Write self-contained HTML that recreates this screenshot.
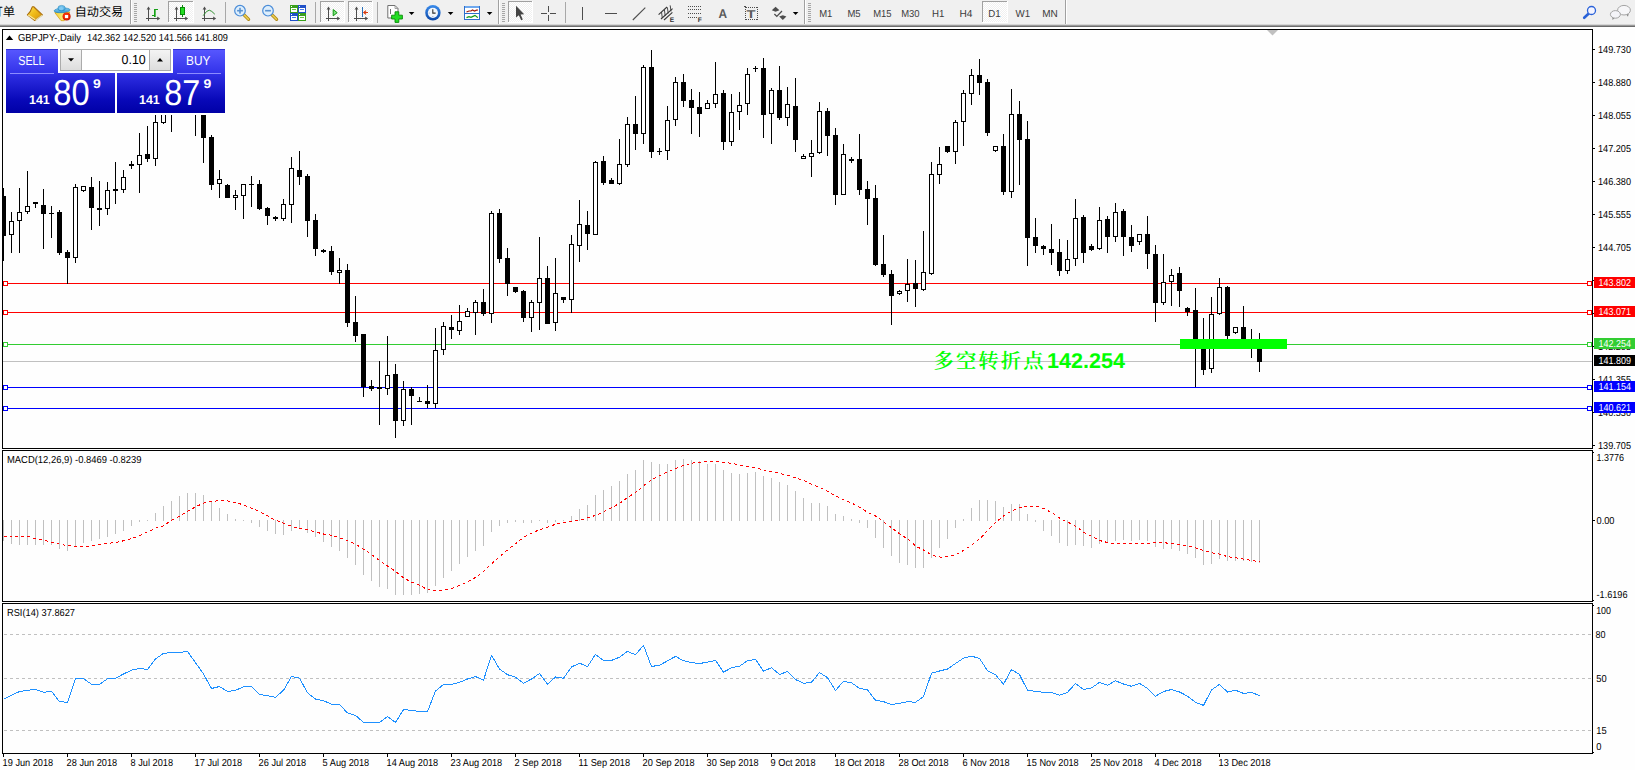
<!DOCTYPE html>
<html><head><meta charset="utf-8"><title>GBPJPY-,Daily</title>
<style>
html,body{margin:0;padding:0;background:#fff;overflow:hidden}
#root{position:relative;width:1635px;height:770px;overflow:hidden;background:#fff}
svg{position:absolute;left:0;top:0;font-family:"Liberation Sans","Noto Sans CJK SC",sans-serif}
text{white-space:pre;text-rendering:geometricPrecision}
</style></head><body><div id="root">
<svg width="1635" height="770" viewBox="0 0 1635 770">
<rect x="0" y="0" width="1635" height="770" fill="#fefefe" />
<clipPath id="cm"><rect x="3" y="30" width="1589" height="418"/></clipPath>
<g clip-path="url(#cm)" shape-rendering="crispEdges">
<rect x="3" y="361" width="1589" height="1" fill="#c0c0c0" />
<rect x="3" y="283" width="1589" height="1" fill="#ff0000" />
<rect x="3" y="312" width="1589" height="1" fill="#ff0000" />
<rect x="3" y="344" width="1589" height="1" fill="#32cd32" />
<rect x="3" y="387" width="1589" height="1" fill="#0000ff" />
<rect x="3" y="408" width="1589" height="1" fill="#0000ff" />
<rect x="3" y="188" width="1" height="73" fill="#000" />
<rect x="1" y="196" width="5" height="40" fill="#000" />
<rect x="11" y="212" width="1" height="41" fill="#000" />
<rect x="9" y="221" width="5" height="14" fill="#000" />
<rect x="10" y="222" width="3" height="12" fill="#fff" />
<rect x="19" y="188" width="1" height="65" fill="#000" />
<rect x="17" y="212" width="5" height="9" fill="#000" />
<rect x="18" y="213" width="3" height="7" fill="#fff" />
<rect x="27" y="171" width="1" height="43" fill="#000" />
<rect x="25" y="206" width="5" height="6" fill="#000" />
<rect x="26" y="207" width="3" height="4" fill="#fff" />
<rect x="35" y="202" width="1" height="6" fill="#000" />
<rect x="33" y="202" width="5" height="2" fill="#000" />
<rect x="43" y="189" width="1" height="60" fill="#000" />
<rect x="41" y="205" width="5" height="9" fill="#000" />
<rect x="51" y="206" width="1" height="32" fill="#000" />
<rect x="49" y="213" width="5" height="1" fill="#000" />
<rect x="59" y="210" width="1" height="45" fill="#000" />
<rect x="57" y="212" width="5" height="41" fill="#000" />
<rect x="67" y="250" width="1" height="34" fill="#000" />
<rect x="65" y="252" width="5" height="6" fill="#000" />
<rect x="75" y="184" width="1" height="79" fill="#000" />
<rect x="73" y="187" width="5" height="71" fill="#000" />
<rect x="74" y="188" width="3" height="69" fill="#fff" />
<rect x="83" y="186" width="1" height="6" fill="#000" />
<rect x="81" y="186" width="5" height="5" fill="#000" />
<rect x="82" y="187" width="3" height="3" fill="#fff" />
<rect x="91" y="177" width="1" height="53" fill="#000" />
<rect x="89" y="187" width="5" height="21" fill="#000" />
<rect x="99" y="181" width="1" height="45" fill="#000" />
<rect x="97" y="208" width="5" height="2" fill="#000" />
<rect x="107" y="182" width="1" height="33" fill="#000" />
<rect x="105" y="190" width="5" height="19" fill="#000" />
<rect x="106" y="191" width="3" height="17" fill="#fff" />
<rect x="115" y="162" width="1" height="42" fill="#000" />
<rect x="113" y="189" width="5" height="2" fill="#000" />
<rect x="123" y="170" width="1" height="23" fill="#000" />
<rect x="121" y="177" width="5" height="13" fill="#000" />
<rect x="122" y="178" width="3" height="11" fill="#fff" />
<rect x="131" y="161" width="1" height="8" fill="#000" />
<rect x="129" y="164" width="5" height="2" fill="#000" />
<rect x="139" y="133" width="1" height="60" fill="#000" />
<rect x="137" y="155" width="5" height="10" fill="#000" />
<rect x="138" y="156" width="3" height="8" fill="#fff" />
<rect x="147" y="126" width="1" height="36" fill="#000" />
<rect x="145" y="154" width="5" height="5" fill="#000" />
<rect x="155" y="100" width="1" height="66" fill="#000" />
<rect x="153" y="122" width="5" height="37" fill="#000" />
<rect x="154" y="123" width="3" height="35" fill="#fff" />
<rect x="163" y="100" width="1" height="24" fill="#000" />
<rect x="161" y="100" width="5" height="23" fill="#000" />
<rect x="162" y="101" width="3" height="21" fill="#fff" />
<rect x="171" y="100" width="1" height="32" fill="#000" />
<rect x="169" y="100" width="5" height="10" fill="#000" />
<rect x="195" y="100" width="1" height="36" fill="#000" />
<rect x="193" y="100" width="5" height="10" fill="#000" />
<rect x="203" y="100" width="1" height="63" fill="#000" />
<rect x="201" y="100" width="5" height="38" fill="#000" />
<rect x="211" y="135" width="1" height="55" fill="#000" />
<rect x="209" y="137" width="5" height="48" fill="#000" />
<rect x="219" y="170" width="1" height="28" fill="#000" />
<rect x="217" y="179" width="5" height="5" fill="#000" />
<rect x="218" y="180" width="3" height="3" fill="#fff" />
<rect x="227" y="184" width="1" height="14" fill="#000" />
<rect x="225" y="185" width="5" height="13" fill="#000" />
<rect x="235" y="190" width="1" height="20" fill="#000" />
<rect x="233" y="195" width="5" height="3" fill="#000" />
<rect x="234" y="196" width="3" height="1" fill="#fff" />
<rect x="243" y="184" width="1" height="35" fill="#000" />
<rect x="241" y="184" width="5" height="12" fill="#000" />
<rect x="242" y="185" width="3" height="10" fill="#fff" />
<rect x="251" y="176" width="1" height="31" fill="#000" />
<rect x="249" y="184" width="5" height="1" fill="#000" />
<rect x="259" y="180" width="1" height="30" fill="#000" />
<rect x="257" y="184" width="5" height="25" fill="#000" />
<rect x="267" y="207" width="1" height="18" fill="#000" />
<rect x="265" y="208" width="5" height="8" fill="#000" />
<rect x="275" y="216" width="1" height="5" fill="#000" />
<rect x="273" y="217" width="5" height="2" fill="#000" />
<rect x="283" y="199" width="1" height="22" fill="#000" />
<rect x="281" y="204" width="5" height="15" fill="#000" />
<rect x="282" y="205" width="3" height="13" fill="#fff" />
<rect x="291" y="157" width="1" height="66" fill="#000" />
<rect x="289" y="168" width="5" height="37" fill="#000" />
<rect x="290" y="169" width="3" height="35" fill="#fff" />
<rect x="299" y="151" width="1" height="34" fill="#000" />
<rect x="297" y="170" width="5" height="7" fill="#000" />
<rect x="307" y="174" width="1" height="63" fill="#000" />
<rect x="305" y="176" width="5" height="45" fill="#000" />
<rect x="315" y="214" width="1" height="42" fill="#000" />
<rect x="313" y="220" width="5" height="29" fill="#000" />
<rect x="323" y="249" width="1" height="4" fill="#000" />
<rect x="321" y="250" width="5" height="2" fill="#000" />
<rect x="331" y="246" width="1" height="29" fill="#000" />
<rect x="329" y="251" width="5" height="21" fill="#000" />
<rect x="339" y="258" width="1" height="26" fill="#000" />
<rect x="337" y="270" width="5" height="3" fill="#000" />
<rect x="338" y="271" width="3" height="1" fill="#fff" />
<rect x="347" y="264" width="1" height="63" fill="#000" />
<rect x="345" y="270" width="5" height="53" fill="#000" />
<rect x="355" y="296" width="1" height="46" fill="#000" />
<rect x="353" y="322" width="5" height="14" fill="#000" />
<rect x="363" y="334" width="1" height="63" fill="#000" />
<rect x="361" y="334" width="5" height="53" fill="#000" />
<rect x="371" y="380" width="1" height="11" fill="#000" />
<rect x="369" y="386" width="5" height="3" fill="#000" />
<rect x="379" y="361" width="1" height="64" fill="#000" />
<rect x="377" y="387" width="5" height="2" fill="#000" />
<rect x="387" y="336" width="1" height="59" fill="#000" />
<rect x="385" y="375" width="5" height="14" fill="#000" />
<rect x="386" y="376" width="3" height="12" fill="#fff" />
<rect x="395" y="364" width="1" height="74" fill="#000" />
<rect x="393" y="374" width="5" height="47" fill="#000" />
<rect x="403" y="381" width="1" height="45" fill="#000" />
<rect x="401" y="389" width="5" height="32" fill="#000" />
<rect x="402" y="390" width="3" height="30" fill="#fff" />
<rect x="411" y="387" width="1" height="38" fill="#000" />
<rect x="409" y="389" width="5" height="7" fill="#000" />
<rect x="419" y="397" width="1" height="5" fill="#000" />
<rect x="417" y="401" width="5" height="1" fill="#000" />
<rect x="427" y="385" width="1" height="23" fill="#000" />
<rect x="425" y="401" width="5" height="3" fill="#000" />
<rect x="435" y="328" width="1" height="80" fill="#000" />
<rect x="433" y="350" width="5" height="54" fill="#000" />
<rect x="434" y="351" width="3" height="52" fill="#fff" />
<rect x="443" y="322" width="1" height="33" fill="#000" />
<rect x="441" y="326" width="5" height="24" fill="#000" />
<rect x="442" y="327" width="3" height="22" fill="#fff" />
<rect x="451" y="315" width="1" height="24" fill="#000" />
<rect x="449" y="327" width="5" height="3" fill="#000" />
<rect x="459" y="305" width="1" height="30" fill="#000" />
<rect x="457" y="321" width="5" height="10" fill="#000" />
<rect x="458" y="322" width="3" height="8" fill="#fff" />
<rect x="467" y="308" width="1" height="9" fill="#000" />
<rect x="465" y="311" width="5" height="6" fill="#000" />
<rect x="466" y="312" width="3" height="4" fill="#fff" />
<rect x="475" y="300" width="1" height="35" fill="#000" />
<rect x="473" y="302" width="5" height="11" fill="#000" />
<rect x="474" y="303" width="3" height="9" fill="#fff" />
<rect x="483" y="289" width="1" height="27" fill="#000" />
<rect x="481" y="302" width="5" height="12" fill="#000" />
<rect x="491" y="211" width="1" height="112" fill="#000" />
<rect x="489" y="213" width="5" height="101" fill="#000" />
<rect x="490" y="214" width="3" height="99" fill="#fff" />
<rect x="499" y="209" width="1" height="54" fill="#000" />
<rect x="497" y="213" width="5" height="46" fill="#000" />
<rect x="507" y="248" width="1" height="48" fill="#000" />
<rect x="505" y="258" width="5" height="26" fill="#000" />
<rect x="515" y="287" width="1" height="6" fill="#000" />
<rect x="513" y="287" width="5" height="5" fill="#000" />
<rect x="523" y="290" width="1" height="32" fill="#000" />
<rect x="521" y="291" width="5" height="27" fill="#000" />
<rect x="531" y="300" width="1" height="32" fill="#000" />
<rect x="529" y="302" width="5" height="16" fill="#000" />
<rect x="530" y="303" width="3" height="14" fill="#fff" />
<rect x="539" y="237" width="1" height="93" fill="#000" />
<rect x="537" y="278" width="5" height="25" fill="#000" />
<rect x="538" y="279" width="3" height="23" fill="#fff" />
<rect x="547" y="266" width="1" height="58" fill="#000" />
<rect x="545" y="278" width="5" height="46" fill="#000" />
<rect x="555" y="258" width="1" height="73" fill="#000" />
<rect x="553" y="293" width="5" height="30" fill="#000" />
<rect x="554" y="294" width="3" height="28" fill="#fff" />
<rect x="563" y="297" width="1" height="6" fill="#000" />
<rect x="561" y="297" width="5" height="3" fill="#000" />
<rect x="571" y="235" width="1" height="78" fill="#000" />
<rect x="569" y="244" width="5" height="56" fill="#000" />
<rect x="570" y="245" width="3" height="54" fill="#fff" />
<rect x="579" y="200" width="1" height="62" fill="#000" />
<rect x="577" y="224" width="5" height="22" fill="#000" />
<rect x="578" y="225" width="3" height="20" fill="#fff" />
<rect x="587" y="211" width="1" height="39" fill="#000" />
<rect x="585" y="225" width="5" height="9" fill="#000" />
<rect x="595" y="161" width="1" height="74" fill="#000" />
<rect x="593" y="162" width="5" height="73" fill="#000" />
<rect x="594" y="163" width="3" height="71" fill="#fff" />
<rect x="603" y="156" width="1" height="29" fill="#000" />
<rect x="601" y="161" width="5" height="22" fill="#000" />
<rect x="611" y="178" width="1" height="6" fill="#000" />
<rect x="609" y="180" width="5" height="4" fill="#000" />
<rect x="619" y="139" width="1" height="46" fill="#000" />
<rect x="617" y="164" width="5" height="20" fill="#000" />
<rect x="618" y="165" width="3" height="18" fill="#fff" />
<rect x="627" y="117" width="1" height="50" fill="#000" />
<rect x="625" y="124" width="5" height="41" fill="#000" />
<rect x="626" y="125" width="3" height="39" fill="#fff" />
<rect x="635" y="96" width="1" height="54" fill="#000" />
<rect x="633" y="124" width="5" height="10" fill="#000" />
<rect x="643" y="65" width="1" height="79" fill="#000" />
<rect x="641" y="67" width="5" height="67" fill="#000" />
<rect x="642" y="68" width="3" height="65" fill="#fff" />
<rect x="651" y="50" width="1" height="108" fill="#000" />
<rect x="649" y="67" width="5" height="85" fill="#000" />
<rect x="659" y="148" width="1" height="7" fill="#000" />
<rect x="657" y="151" width="5" height="1" fill="#000" />
<rect x="667" y="106" width="1" height="54" fill="#000" />
<rect x="665" y="120" width="5" height="31" fill="#000" />
<rect x="666" y="121" width="3" height="29" fill="#fff" />
<rect x="675" y="77" width="1" height="49" fill="#000" />
<rect x="673" y="82" width="5" height="38" fill="#000" />
<rect x="674" y="83" width="3" height="36" fill="#fff" />
<rect x="683" y="74" width="1" height="33" fill="#000" />
<rect x="681" y="82" width="5" height="19" fill="#000" />
<rect x="691" y="89" width="1" height="45" fill="#000" />
<rect x="689" y="100" width="5" height="8" fill="#000" />
<rect x="699" y="92" width="1" height="45" fill="#000" />
<rect x="697" y="107" width="5" height="7" fill="#000" />
<rect x="707" y="100" width="1" height="9" fill="#000" />
<rect x="705" y="103" width="5" height="6" fill="#000" />
<rect x="706" y="104" width="3" height="4" fill="#fff" />
<rect x="715" y="62" width="1" height="46" fill="#000" />
<rect x="713" y="94" width="5" height="10" fill="#000" />
<rect x="714" y="95" width="3" height="8" fill="#fff" />
<rect x="723" y="90" width="1" height="60" fill="#000" />
<rect x="721" y="93" width="5" height="49" fill="#000" />
<rect x="731" y="94" width="1" height="52" fill="#000" />
<rect x="729" y="112" width="5" height="30" fill="#000" />
<rect x="730" y="113" width="3" height="28" fill="#fff" />
<rect x="739" y="92" width="1" height="38" fill="#000" />
<rect x="737" y="105" width="5" height="7" fill="#000" />
<rect x="738" y="106" width="3" height="5" fill="#fff" />
<rect x="747" y="68" width="1" height="47" fill="#000" />
<rect x="745" y="74" width="5" height="30" fill="#000" />
<rect x="746" y="75" width="3" height="28" fill="#fff" />
<rect x="755" y="66" width="1" height="6" fill="#000" />
<rect x="753" y="68" width="5" height="1" fill="#000" />
<rect x="763" y="58" width="1" height="80" fill="#000" />
<rect x="761" y="68" width="5" height="47" fill="#000" />
<rect x="771" y="88" width="1" height="56" fill="#000" />
<rect x="769" y="90" width="5" height="24" fill="#000" />
<rect x="770" y="91" width="3" height="22" fill="#fff" />
<rect x="779" y="66" width="1" height="54" fill="#000" />
<rect x="777" y="90" width="5" height="28" fill="#000" />
<rect x="787" y="87" width="1" height="39" fill="#000" />
<rect x="785" y="104" width="5" height="14" fill="#000" />
<rect x="786" y="105" width="3" height="12" fill="#fff" />
<rect x="795" y="78" width="1" height="74" fill="#000" />
<rect x="793" y="106" width="5" height="34" fill="#000" />
<rect x="803" y="154" width="1" height="5" fill="#000" />
<rect x="801" y="156" width="5" height="3" fill="#000" />
<rect x="802" y="157" width="3" height="1" fill="#fff" />
<rect x="811" y="140" width="1" height="37" fill="#000" />
<rect x="809" y="153" width="5" height="4" fill="#000" />
<rect x="810" y="154" width="3" height="2" fill="#fff" />
<rect x="819" y="102" width="1" height="52" fill="#000" />
<rect x="817" y="111" width="5" height="42" fill="#000" />
<rect x="818" y="112" width="3" height="40" fill="#fff" />
<rect x="827" y="108" width="1" height="48" fill="#000" />
<rect x="825" y="111" width="5" height="25" fill="#000" />
<rect x="835" y="128" width="1" height="77" fill="#000" />
<rect x="833" y="135" width="5" height="60" fill="#000" />
<rect x="843" y="144" width="1" height="51" fill="#000" />
<rect x="841" y="154" width="5" height="41" fill="#000" />
<rect x="842" y="155" width="3" height="39" fill="#fff" />
<rect x="851" y="157" width="1" height="6" fill="#000" />
<rect x="849" y="159" width="5" height="2" fill="#000" />
<rect x="859" y="134" width="1" height="61" fill="#000" />
<rect x="857" y="159" width="5" height="31" fill="#000" />
<rect x="867" y="181" width="1" height="44" fill="#000" />
<rect x="865" y="189" width="5" height="10" fill="#000" />
<rect x="875" y="185" width="1" height="81" fill="#000" />
<rect x="873" y="198" width="5" height="67" fill="#000" />
<rect x="883" y="235" width="1" height="42" fill="#000" />
<rect x="881" y="264" width="5" height="11" fill="#000" />
<rect x="891" y="270" width="1" height="55" fill="#000" />
<rect x="889" y="274" width="5" height="22" fill="#000" />
<rect x="899" y="290" width="1" height="5" fill="#000" />
<rect x="897" y="291" width="5" height="3" fill="#000" />
<rect x="898" y="292" width="3" height="1" fill="#fff" />
<rect x="907" y="259" width="1" height="43" fill="#000" />
<rect x="905" y="284" width="5" height="7" fill="#000" />
<rect x="906" y="285" width="3" height="5" fill="#fff" />
<rect x="915" y="260" width="1" height="47" fill="#000" />
<rect x="913" y="283" width="5" height="6" fill="#000" />
<rect x="923" y="231" width="1" height="60" fill="#000" />
<rect x="921" y="272" width="5" height="18" fill="#000" />
<rect x="922" y="273" width="3" height="16" fill="#fff" />
<rect x="931" y="162" width="1" height="113" fill="#000" />
<rect x="929" y="174" width="5" height="100" fill="#000" />
<rect x="930" y="175" width="3" height="98" fill="#fff" />
<rect x="939" y="147" width="1" height="37" fill="#000" />
<rect x="937" y="164" width="5" height="11" fill="#000" />
<rect x="938" y="165" width="3" height="9" fill="#fff" />
<rect x="947" y="146" width="1" height="7" fill="#000" />
<rect x="945" y="146" width="5" height="6" fill="#000" />
<rect x="955" y="120" width="1" height="44" fill="#000" />
<rect x="953" y="122" width="5" height="30" fill="#000" />
<rect x="954" y="123" width="3" height="28" fill="#fff" />
<rect x="963" y="90" width="1" height="56" fill="#000" />
<rect x="961" y="93" width="5" height="29" fill="#000" />
<rect x="962" y="94" width="3" height="27" fill="#fff" />
<rect x="971" y="69" width="1" height="36" fill="#000" />
<rect x="969" y="75" width="5" height="19" fill="#000" />
<rect x="970" y="76" width="3" height="17" fill="#fff" />
<rect x="979" y="59" width="1" height="36" fill="#000" />
<rect x="977" y="75" width="5" height="8" fill="#000" />
<rect x="987" y="79" width="1" height="57" fill="#000" />
<rect x="985" y="82" width="5" height="51" fill="#000" />
<rect x="995" y="146" width="1" height="6" fill="#000" />
<rect x="993" y="146" width="5" height="5" fill="#000" />
<rect x="994" y="147" width="3" height="3" fill="#fff" />
<rect x="1003" y="134" width="1" height="61" fill="#000" />
<rect x="1001" y="146" width="5" height="46" fill="#000" />
<rect x="1011" y="89" width="1" height="109" fill="#000" />
<rect x="1009" y="114" width="5" height="78" fill="#000" />
<rect x="1010" y="115" width="3" height="76" fill="#fff" />
<rect x="1019" y="101" width="1" height="84" fill="#000" />
<rect x="1017" y="114" width="5" height="26" fill="#000" />
<rect x="1027" y="121" width="1" height="145" fill="#000" />
<rect x="1025" y="139" width="5" height="99" fill="#000" />
<rect x="1035" y="218" width="1" height="35" fill="#000" />
<rect x="1033" y="237" width="5" height="9" fill="#000" />
<rect x="1043" y="245" width="1" height="10" fill="#000" />
<rect x="1041" y="246" width="5" height="3" fill="#000" />
<rect x="1051" y="224" width="1" height="41" fill="#000" />
<rect x="1049" y="249" width="5" height="4" fill="#000" />
<rect x="1059" y="239" width="1" height="37" fill="#000" />
<rect x="1057" y="252" width="5" height="19" fill="#000" />
<rect x="1067" y="240" width="1" height="34" fill="#000" />
<rect x="1065" y="259" width="5" height="12" fill="#000" />
<rect x="1066" y="260" width="3" height="10" fill="#fff" />
<rect x="1075" y="199" width="1" height="67" fill="#000" />
<rect x="1073" y="218" width="5" height="41" fill="#000" />
<rect x="1074" y="219" width="3" height="39" fill="#fff" />
<rect x="1083" y="215" width="1" height="48" fill="#000" />
<rect x="1081" y="217" width="5" height="36" fill="#000" />
<rect x="1091" y="244" width="1" height="7" fill="#000" />
<rect x="1089" y="246" width="5" height="4" fill="#000" />
<rect x="1099" y="207" width="1" height="43" fill="#000" />
<rect x="1097" y="220" width="5" height="29" fill="#000" />
<rect x="1098" y="221" width="3" height="27" fill="#fff" />
<rect x="1107" y="216" width="1" height="37" fill="#000" />
<rect x="1105" y="219" width="5" height="18" fill="#000" />
<rect x="1115" y="203" width="1" height="39" fill="#000" />
<rect x="1113" y="212" width="5" height="25" fill="#000" />
<rect x="1114" y="213" width="3" height="23" fill="#fff" />
<rect x="1123" y="209" width="1" height="47" fill="#000" />
<rect x="1121" y="211" width="5" height="26" fill="#000" />
<rect x="1131" y="225" width="1" height="27" fill="#000" />
<rect x="1129" y="237" width="5" height="9" fill="#000" />
<rect x="1139" y="234" width="1" height="11" fill="#000" />
<rect x="1137" y="234" width="5" height="8" fill="#000" />
<rect x="1138" y="235" width="3" height="6" fill="#fff" />
<rect x="1147" y="216" width="1" height="53" fill="#000" />
<rect x="1145" y="234" width="5" height="20" fill="#000" />
<rect x="1155" y="245" width="1" height="77" fill="#000" />
<rect x="1153" y="254" width="5" height="49" fill="#000" />
<rect x="1163" y="254" width="1" height="51" fill="#000" />
<rect x="1161" y="282" width="5" height="21" fill="#000" />
<rect x="1162" y="283" width="3" height="19" fill="#fff" />
<rect x="1171" y="269" width="1" height="37" fill="#000" />
<rect x="1169" y="275" width="5" height="7" fill="#000" />
<rect x="1170" y="276" width="3" height="5" fill="#fff" />
<rect x="1179" y="267" width="1" height="40" fill="#000" />
<rect x="1177" y="273" width="5" height="18" fill="#000" />
<rect x="1187" y="307" width="1" height="9" fill="#000" />
<rect x="1185" y="308" width="5" height="4" fill="#000" />
<rect x="1195" y="288" width="1" height="99" fill="#000" />
<rect x="1193" y="310" width="5" height="35" fill="#000" />
<rect x="1203" y="318" width="1" height="57" fill="#000" />
<rect x="1201" y="345" width="5" height="25" fill="#000" />
<rect x="1211" y="297" width="1" height="76" fill="#000" />
<rect x="1209" y="314" width="5" height="55" fill="#000" />
<rect x="1210" y="315" width="3" height="53" fill="#fff" />
<rect x="1219" y="278" width="1" height="37" fill="#000" />
<rect x="1217" y="287" width="5" height="27" fill="#000" />
<rect x="1218" y="288" width="3" height="25" fill="#fff" />
<rect x="1227" y="286" width="1" height="53" fill="#000" />
<rect x="1225" y="287" width="5" height="49" fill="#000" />
<rect x="1235" y="327" width="1" height="7" fill="#000" />
<rect x="1233" y="327" width="5" height="6" fill="#000" />
<rect x="1234" y="328" width="3" height="4" fill="#fff" />
<rect x="1243" y="306" width="1" height="39" fill="#000" />
<rect x="1241" y="327" width="5" height="18" fill="#000" />
<rect x="1251" y="329" width="1" height="29" fill="#000" />
<rect x="1249" y="344" width="5" height="1" fill="#000" />
<rect x="1259" y="333" width="1" height="39" fill="#000" />
<rect x="1257" y="340" width="5" height="22" fill="#000" />
<rect x="3" y="281" width="5" height="5" fill="#ff0000" />
<rect x="4" y="282" width="3" height="3" fill="#fff" />
<rect x="1587" y="281" width="5" height="5" fill="#ff0000" />
<rect x="1588" y="282" width="3" height="3" fill="#fff" />
<rect x="3" y="310" width="5" height="5" fill="#ff0000" />
<rect x="4" y="311" width="3" height="3" fill="#fff" />
<rect x="1587" y="310" width="5" height="5" fill="#ff0000" />
<rect x="1588" y="311" width="3" height="3" fill="#fff" />
<rect x="3" y="342" width="5" height="5" fill="#32cd32" />
<rect x="4" y="343" width="3" height="3" fill="#fff" />
<rect x="1587" y="342" width="5" height="5" fill="#32cd32" />
<rect x="1588" y="343" width="3" height="3" fill="#fff" />
<rect x="3" y="385" width="5" height="5" fill="#0000ff" />
<rect x="4" y="386" width="3" height="3" fill="#fff" />
<rect x="1587" y="385" width="5" height="5" fill="#0000ff" />
<rect x="1588" y="386" width="3" height="3" fill="#fff" />
<rect x="3" y="406" width="5" height="5" fill="#0000ff" />
<rect x="4" y="407" width="3" height="3" fill="#fff" />
<rect x="1587" y="406" width="5" height="5" fill="#0000ff" />
<rect x="1588" y="407" width="3" height="3" fill="#fff" />
<rect x="1180" y="339" width="107" height="10" fill="#00ff00" />
</g>
<polygon points="1267,30 1278,30 1272.5,35.5" fill="#c0c0c0"/>
<text x="933" y="367.5" font-size="22" font-weight="bold" fill="#00ff00"><tspan font-family='"Noto Serif CJK SC",serif' font-size="20.4" font-weight="600" letter-spacing="2.1" x="933.4" y="368.2">多空转折点</tspan><tspan x="1047" font-family='"Liberation Sans",sans-serif' font-size="21.3" textLength="78" lengthAdjust="spacingAndGlyphs">142.254</tspan></text>
<g shape-rendering="crispEdges">
<rect x="3" y="520" width="1" height="21" fill="#c0c0c0" />
<rect x="11" y="520" width="1" height="24" fill="#c0c0c0" />
<rect x="19" y="520" width="1" height="25" fill="#c0c0c0" />
<rect x="27" y="520" width="1" height="25" fill="#c0c0c0" />
<rect x="35" y="520" width="1" height="25" fill="#c0c0c0" />
<rect x="43" y="520" width="1" height="25" fill="#c0c0c0" />
<rect x="51" y="520" width="1" height="25" fill="#c0c0c0" />
<rect x="59" y="520" width="1" height="29" fill="#c0c0c0" />
<rect x="67" y="520" width="1" height="31" fill="#c0c0c0" />
<rect x="75" y="520" width="1" height="26" fill="#c0c0c0" />
<rect x="83" y="520" width="1" height="23" fill="#c0c0c0" />
<rect x="91" y="520" width="1" height="21" fill="#c0c0c0" />
<rect x="99" y="520" width="1" height="19" fill="#c0c0c0" />
<rect x="107" y="520" width="1" height="17" fill="#c0c0c0" />
<rect x="115" y="520" width="1" height="14" fill="#c0c0c0" />
<rect x="123" y="520" width="1" height="11" fill="#c0c0c0" />
<rect x="131" y="520" width="1" height="6" fill="#c0c0c0" />
<rect x="139" y="520" width="1" height="2" fill="#c0c0c0" />
<rect x="147" y="520" width="1" height="1" fill="#c0c0c0" />
<rect x="155" y="513" width="1" height="8" fill="#c0c0c0" />
<rect x="163" y="506" width="1" height="15" fill="#c0c0c0" />
<rect x="171" y="501" width="1" height="20" fill="#c0c0c0" />
<rect x="179" y="496" width="1" height="25" fill="#c0c0c0" />
<rect x="187" y="493" width="1" height="28" fill="#c0c0c0" />
<rect x="195" y="493" width="1" height="28" fill="#c0c0c0" />
<rect x="203" y="495" width="1" height="26" fill="#c0c0c0" />
<rect x="211" y="501" width="1" height="20" fill="#c0c0c0" />
<rect x="219" y="508" width="1" height="13" fill="#c0c0c0" />
<rect x="227" y="514" width="1" height="7" fill="#c0c0c0" />
<rect x="235" y="519" width="1" height="2" fill="#c0c0c0" />
<rect x="243" y="520" width="1" height="1" fill="#c0c0c0" />
<rect x="251" y="520" width="1" height="3" fill="#c0c0c0" />
<rect x="259" y="520" width="1" height="7" fill="#c0c0c0" />
<rect x="267" y="520" width="1" height="11" fill="#c0c0c0" />
<rect x="275" y="520" width="1" height="14" fill="#c0c0c0" />
<rect x="283" y="520" width="1" height="15" fill="#c0c0c0" />
<rect x="291" y="520" width="1" height="11" fill="#c0c0c0" />
<rect x="299" y="520" width="1" height="9" fill="#c0c0c0" />
<rect x="307" y="520" width="1" height="13" fill="#c0c0c0" />
<rect x="315" y="520" width="1" height="17" fill="#c0c0c0" />
<rect x="323" y="520" width="1" height="22" fill="#c0c0c0" />
<rect x="331" y="520" width="1" height="27" fill="#c0c0c0" />
<rect x="339" y="520" width="1" height="31" fill="#c0c0c0" />
<rect x="347" y="520" width="1" height="38" fill="#c0c0c0" />
<rect x="355" y="520" width="1" height="45" fill="#c0c0c0" />
<rect x="363" y="520" width="1" height="55" fill="#c0c0c0" />
<rect x="371" y="520" width="1" height="61" fill="#c0c0c0" />
<rect x="379" y="520" width="1" height="67" fill="#c0c0c0" />
<rect x="387" y="520" width="1" height="69" fill="#c0c0c0" />
<rect x="395" y="520" width="1" height="75" fill="#c0c0c0" />
<rect x="403" y="520" width="1" height="75" fill="#c0c0c0" />
<rect x="411" y="520" width="1" height="75" fill="#c0c0c0" />
<rect x="419" y="520" width="1" height="74" fill="#c0c0c0" />
<rect x="427" y="520" width="1" height="73" fill="#c0c0c0" />
<rect x="435" y="520" width="1" height="66" fill="#c0c0c0" />
<rect x="443" y="520" width="1" height="58" fill="#c0c0c0" />
<rect x="451" y="520" width="1" height="51" fill="#c0c0c0" />
<rect x="459" y="520" width="1" height="44" fill="#c0c0c0" />
<rect x="467" y="520" width="1" height="37" fill="#c0c0c0" />
<rect x="475" y="520" width="1" height="31" fill="#c0c0c0" />
<rect x="483" y="520" width="1" height="26" fill="#c0c0c0" />
<rect x="491" y="520" width="1" height="12" fill="#c0c0c0" />
<rect x="499" y="520" width="1" height="6" fill="#c0c0c0" />
<rect x="507" y="520" width="1" height="3" fill="#c0c0c0" />
<rect x="515" y="520" width="1" height="2" fill="#c0c0c0" />
<rect x="523" y="520" width="1" height="3" fill="#c0c0c0" />
<rect x="531" y="520" width="1" height="3" fill="#c0c0c0" />
<rect x="539" y="520" width="1" height="1" fill="#c0c0c0" />
<rect x="547" y="520" width="1" height="3" fill="#c0c0c0" />
<rect x="555" y="520" width="1" height="2" fill="#c0c0c0" />
<rect x="563" y="520" width="1" height="1" fill="#c0c0c0" />
<rect x="571" y="516" width="1" height="5" fill="#c0c0c0" />
<rect x="579" y="509" width="1" height="12" fill="#c0c0c0" />
<rect x="587" y="505" width="1" height="16" fill="#c0c0c0" />
<rect x="595" y="495" width="1" height="26" fill="#c0c0c0" />
<rect x="603" y="490" width="1" height="31" fill="#c0c0c0" />
<rect x="611" y="486" width="1" height="35" fill="#c0c0c0" />
<rect x="619" y="481" width="1" height="40" fill="#c0c0c0" />
<rect x="627" y="474" width="1" height="47" fill="#c0c0c0" />
<rect x="635" y="470" width="1" height="51" fill="#c0c0c0" />
<rect x="643" y="460" width="1" height="61" fill="#c0c0c0" />
<rect x="651" y="462" width="1" height="59" fill="#c0c0c0" />
<rect x="659" y="464" width="1" height="57" fill="#c0c0c0" />
<rect x="667" y="464" width="1" height="57" fill="#c0c0c0" />
<rect x="675" y="460" width="1" height="61" fill="#c0c0c0" />
<rect x="683" y="459" width="1" height="62" fill="#c0c0c0" />
<rect x="691" y="460" width="1" height="61" fill="#c0c0c0" />
<rect x="699" y="461" width="1" height="60" fill="#c0c0c0" />
<rect x="707" y="464" width="1" height="57" fill="#c0c0c0" />
<rect x="715" y="464" width="1" height="57" fill="#c0c0c0" />
<rect x="723" y="470" width="1" height="51" fill="#c0c0c0" />
<rect x="731" y="473" width="1" height="48" fill="#c0c0c0" />
<rect x="739" y="474" width="1" height="47" fill="#c0c0c0" />
<rect x="747" y="473" width="1" height="48" fill="#c0c0c0" />
<rect x="755" y="472" width="1" height="49" fill="#c0c0c0" />
<rect x="763" y="476" width="1" height="45" fill="#c0c0c0" />
<rect x="771" y="478" width="1" height="43" fill="#c0c0c0" />
<rect x="779" y="482" width="1" height="39" fill="#c0c0c0" />
<rect x="787" y="485" width="1" height="36" fill="#c0c0c0" />
<rect x="795" y="491" width="1" height="30" fill="#c0c0c0" />
<rect x="803" y="498" width="1" height="23" fill="#c0c0c0" />
<rect x="811" y="503" width="1" height="18" fill="#c0c0c0" />
<rect x="819" y="503" width="1" height="18" fill="#c0c0c0" />
<rect x="827" y="506" width="1" height="15" fill="#c0c0c0" />
<rect x="835" y="514" width="1" height="7" fill="#c0c0c0" />
<rect x="843" y="516" width="1" height="5" fill="#c0c0c0" />
<rect x="851" y="519" width="1" height="2" fill="#c0c0c0" />
<rect x="859" y="520" width="1" height="3" fill="#c0c0c0" />
<rect x="867" y="520" width="1" height="8" fill="#c0c0c0" />
<rect x="875" y="520" width="1" height="18" fill="#c0c0c0" />
<rect x="883" y="520" width="1" height="28" fill="#c0c0c0" />
<rect x="891" y="520" width="1" height="36" fill="#c0c0c0" />
<rect x="899" y="520" width="1" height="43" fill="#c0c0c0" />
<rect x="907" y="520" width="1" height="45" fill="#c0c0c0" />
<rect x="915" y="520" width="1" height="48" fill="#c0c0c0" />
<rect x="923" y="520" width="1" height="48" fill="#c0c0c0" />
<rect x="931" y="520" width="1" height="38" fill="#c0c0c0" />
<rect x="939" y="520" width="1" height="28" fill="#c0c0c0" />
<rect x="947" y="520" width="1" height="19" fill="#c0c0c0" />
<rect x="955" y="520" width="1" height="8" fill="#c0c0c0" />
<rect x="963" y="519" width="1" height="2" fill="#c0c0c0" />
<rect x="971" y="508" width="1" height="13" fill="#c0c0c0" />
<rect x="979" y="500" width="1" height="21" fill="#c0c0c0" />
<rect x="987" y="500" width="1" height="21" fill="#c0c0c0" />
<rect x="995" y="501" width="1" height="20" fill="#c0c0c0" />
<rect x="1003" y="507" width="1" height="14" fill="#c0c0c0" />
<rect x="1011" y="504" width="1" height="17" fill="#c0c0c0" />
<rect x="1019" y="504" width="1" height="17" fill="#c0c0c0" />
<rect x="1027" y="514" width="1" height="7" fill="#c0c0c0" />
<rect x="1035" y="520" width="1" height="2" fill="#c0c0c0" />
<rect x="1043" y="520" width="1" height="11" fill="#c0c0c0" />
<rect x="1051" y="520" width="1" height="16" fill="#c0c0c0" />
<rect x="1059" y="520" width="1" height="23" fill="#c0c0c0" />
<rect x="1067" y="520" width="1" height="26" fill="#c0c0c0" />
<rect x="1075" y="520" width="1" height="25" fill="#c0c0c0" />
<rect x="1083" y="520" width="1" height="26" fill="#c0c0c0" />
<rect x="1091" y="520" width="1" height="28" fill="#c0c0c0" />
<rect x="1099" y="520" width="1" height="24" fill="#c0c0c0" />
<rect x="1107" y="520" width="1" height="23" fill="#c0c0c0" />
<rect x="1115" y="520" width="1" height="21" fill="#c0c0c0" />
<rect x="1123" y="520" width="1" height="20" fill="#c0c0c0" />
<rect x="1131" y="520" width="1" height="21" fill="#c0c0c0" />
<rect x="1139" y="520" width="1" height="20" fill="#c0c0c0" />
<rect x="1147" y="520" width="1" height="21" fill="#c0c0c0" />
<rect x="1155" y="520" width="1" height="27" fill="#c0c0c0" />
<rect x="1163" y="520" width="1" height="29" fill="#c0c0c0" />
<rect x="1171" y="520" width="1" height="29" fill="#c0c0c0" />
<rect x="1179" y="520" width="1" height="31" fill="#c0c0c0" />
<rect x="1187" y="520" width="1" height="34" fill="#c0c0c0" />
<rect x="1195" y="520" width="1" height="38" fill="#c0c0c0" />
<rect x="1203" y="520" width="1" height="45" fill="#c0c0c0" />
<rect x="1211" y="520" width="1" height="44" fill="#c0c0c0" />
<rect x="1219" y="520" width="1" height="39" fill="#c0c0c0" />
<rect x="1227" y="520" width="1" height="41" fill="#c0c0c0" />
<rect x="1235" y="520" width="1" height="41" fill="#c0c0c0" />
<rect x="1243" y="520" width="1" height="41" fill="#c0c0c0" />
<rect x="1251" y="520" width="1" height="42" fill="#c0c0c0" />
<rect x="1259" y="520" width="1" height="43" fill="#c0c0c0" />
</g>
<polyline points="3.5,536.0 11.5,536.0 19.5,536.1 27.5,536.3 35.5,538.8 43.5,540.3 51.5,542.1 59.5,544.1 67.5,545.8 75.5,546.1 83.5,546.1 91.5,546.0 99.5,544.5 107.5,543.5 115.5,542.5 123.5,540.8 131.5,538.5 139.5,535.8 147.5,532.0 155.5,528.3 163.5,525.8 171.5,520.2 179.5,516.2 187.5,511.5 195.5,506.9 203.5,503.2 211.5,501.4 219.5,500.7 227.5,500.9 235.5,502.5 243.5,504.9 251.5,508.2 259.5,511.5 267.5,515.7 275.5,520.2 283.5,523.2 291.5,526.3 299.5,528.3 307.5,529.5 315.5,532.0 323.5,534.0 331.5,535.3 339.5,537.8 347.5,540.8 355.5,544.1 363.5,549.1 371.5,554.5 379.5,560.4 387.5,565.9 395.5,571.5 403.5,577.9 411.8,582.2 419.8,585.5 427.8,589.7 435.9,590.7 443.9,590.0 451.9,588.5 459.9,585.2 468.0,581.7 476.0,577.2 484.0,570.9 492.0,563.4 500.0,556.3 508.1,549.5 516.1,543.3 524.1,537.0 532.1,532.8 540.2,529.5 548.2,527.0 556.2,524.0 564.2,522.7 572.3,521.5 580.3,520.2 588.3,517.5 596.3,515.2 604.4,511.5 612.4,507.5 620.4,502.7 628.4,496.9 636.5,491.9 644.5,485.1 652.5,479.4 660.5,475.1 668.5,471.3 676.6,468.1 684.6,465.1 692.6,463.1 700.7,462.1 708.7,461.8 716.7,461.8 724.7,462.5 732.7,463.5 740.8,465.5 748.8,466.8 756.8,468.1 764.8,470.1 772.9,471.8 780.9,473.8 788.9,475.6 796.9,478.1 805.0,481.1 811.8,484.4 819.8,487.6 827.8,491.2 835.9,496.2 843.9,499.9 851.9,503.2 859.9,507.5 868.0,512.5 876.0,516.2 884.0,522.0 892.0,528.3 900.0,534.0 908.1,539.5 916.1,546.3 924.1,550.3 932.1,555.3 940.2,557.1 948.2,556.8 956.2,554.6 964.2,550.1 972.3,544.6 980.3,538.3 988.3,529.5 996.3,522.0 1004.4,515.2 1012.4,510.7 1020.4,507.5 1028.4,506.2 1036.5,506.4 1044.5,508.7 1052.5,513.2 1060.5,518.7 1068.5,522.5 1076.6,527.0 1084.6,532.8 1092.6,537.0 1100.7,540.8 1108.7,542.8 1116.7,543.8 1124.7,543.8 1132.7,543.8 1140.8,543.5 1148.8,543.1 1156.8,542.8 1164.8,542.8 1172.9,543.8 1180.9,544.8 1188.9,546.3 1196.9,548.3 1203.5,550.6 1211.9,552.8 1219.9,554.1 1227.9,556.8 1235.9,557.8 1243.9,559.2 1251.8,560.5 1260.1,561.8" fill="none" stroke="#ff0000" stroke-width="1" stroke-dasharray="3,3" shape-rendering="crispEdges"/>
<g shape-rendering="crispEdges">
<line x1="4" x2="1592" y1="634.5" y2="634.5" stroke="#c0c0c0" stroke-width="1" stroke-dasharray="3,3"/>
<line x1="4" x2="1592" y1="678.5" y2="678.5" stroke="#c0c0c0" stroke-width="1" stroke-dasharray="3,3"/>
<line x1="4" x2="1592" y1="730.5" y2="730.5" stroke="#c0c0c0" stroke-width="1" stroke-dasharray="3,3"/>
</g>
<polyline points="3.5,699.1 11.5,695.3 19.5,691.5 27.5,690.3 35.5,689.5 43.5,692.3 51.5,691.3 59.5,701.6 67.5,702.3 75.5,678.2 83.5,678.5 91.5,684.3 99.5,684.3 107.5,678.8 115.5,678.2 123.5,674.0 131.5,670.2 139.5,668.5 147.5,669.5 155.5,658.9 163.5,653.4 171.5,652.4 179.5,652.4 187.5,651.4 195.5,662.7 203.5,674.0 211.5,688.5 219.5,686.5 227.5,691.5 235.5,690.3 243.5,686.8 251.5,686.8 259.5,694.3 267.5,695.8 275.5,697.3 283.5,690.3 291.5,676.5 299.5,678.2 307.5,692.8 315.5,699.1 323.5,700.6 331.5,704.3 339.5,704.6 347.5,712.9 355.5,715.4 363.5,722.4 371.5,722.4 379.5,722.4 387.5,716.6 395.5,722.4 403.5,709.6 411.5,710.3 419.5,711.6 427.5,711.6 435.5,691.0 443.5,684.5 451.5,684.3 459.5,682.3 467.5,679.0 475.5,676.5 483.5,680.3 491.5,655.2 499.5,669.0 507.5,674.7 515.5,677.2 523.5,683.3 531.5,679.0 539.5,673.5 547.5,684.3 555.5,677.0 563.5,678.2 571.5,667.0 579.5,663.2 587.5,666.5 595.5,654.4 603.5,660.4 611.5,660.4 619.5,657.2 627.5,651.4 635.5,654.7 643.5,645.4 651.5,666.5 659.5,665.2 667.5,660.9 675.5,656.4 683.5,660.7 691.5,662.7 699.5,663.5 707.5,662.2 715.5,660.4 723.5,672.2 731.5,667.7 739.5,666.2 747.5,660.7 755.5,659.4 763.5,671.2 771.5,667.7 779.5,674.5 787.5,671.5 795.5,679.5 803.5,683.3 811.5,682.3 819.5,672.5 827.5,677.7 835.5,690.5 843.5,681.3 851.5,682.8 859.5,688.3 867.5,689.8 875.5,700.3 883.5,701.6 891.5,704.6 899.5,703.3 907.5,701.6 915.5,702.3 923.5,696.6 931.5,673.2 939.5,671.0 947.5,669.0 955.5,663.5 963.5,658.2 971.5,656.2 979.5,658.4 987.5,670.7 995.5,674.7 1003.5,684.3 1011.5,669.5 1019.5,674.5 1027.5,690.3 1035.5,691.3 1043.5,692.3 1051.5,692.3 1059.5,695.3 1067.5,692.3 1075.5,683.5 1083.5,689.5 1091.5,688.0 1099.5,682.3 1107.5,685.3 1115.5,680.8 1123.5,684.0 1131.5,686.3 1139.5,683.3 1147.5,688.5 1155.5,696.3 1163.5,691.5 1171.5,689.5 1179.5,692.0 1187.5,696.1 1195.5,702.3 1203.5,705.4 1211.5,690.0 1219.5,684.4 1227.5,692.1 1235.5,690.2 1243.5,693.4 1251.5,692.4 1259.5,695.6" fill="none" stroke="#1e90ff" stroke-width="1" stroke-linejoin="round" shape-rendering="crispEdges"/>
<g shape-rendering="crispEdges">
<rect x="2" y="29" width="1591" height="1" fill="#000" />
<rect x="2" y="448" width="1591" height="1" fill="#000" />
<rect x="2" y="29" width="1" height="420" fill="#000" />
<rect x="1592" y="29" width="1" height="420" fill="#000" />
<rect x="2" y="450" width="1591" height="1" fill="#000" />
<rect x="2" y="601" width="1591" height="1" fill="#000" />
<rect x="2" y="450" width="1" height="152" fill="#000" />
<rect x="1592" y="450" width="1" height="152" fill="#000" />
<rect x="2" y="603" width="1591" height="1" fill="#000" />
<rect x="2" y="753" width="1591" height="1" fill="#000" />
<rect x="2" y="603" width="1" height="151" fill="#000" />
<rect x="1592" y="603" width="1" height="151" fill="#000" />
</g>
<g shape-rendering="crispEdges">
<rect x="1593" y="49" width="2" height="1" fill="#000" />
<rect x="1593" y="82" width="2" height="1" fill="#000" />
<rect x="1593" y="115" width="2" height="1" fill="#000" />
<rect x="1593" y="148" width="2" height="1" fill="#000" />
<rect x="1593" y="181" width="2" height="1" fill="#000" />
<rect x="1593" y="214" width="2" height="1" fill="#000" />
<rect x="1593" y="247" width="2" height="1" fill="#000" />
<rect x="1593" y="280" width="2" height="1" fill="#000" />
<rect x="1593" y="313" width="2" height="1" fill="#000" />
<rect x="1593" y="346" width="2" height="1" fill="#000" />
<rect x="1593" y="379" width="2" height="1" fill="#000" />
<rect x="1593" y="412" width="2" height="1" fill="#000" />
<rect x="1593" y="445" width="2" height="1" fill="#000" />
<rect x="1593" y="452" width="1" height="1" fill="#000" />
<rect x="1593" y="520" width="2" height="1" fill="#000" />
<rect x="1593" y="600" width="1" height="1" fill="#000" />
<rect x="1593" y="605" width="1" height="1" fill="#000" />
<rect x="1593" y="752" width="1" height="1" fill="#000" />
</g>
<text x="1598" y="53" font-size="10.17" fill="#000" textLength="33" lengthAdjust="spacingAndGlyphs" >149.730</text>
<text x="1598" y="86" font-size="10.17" fill="#000" textLength="33" lengthAdjust="spacingAndGlyphs" >148.880</text>
<text x="1598" y="119" font-size="10.17" fill="#000" textLength="33" lengthAdjust="spacingAndGlyphs" >148.055</text>
<text x="1598" y="152" font-size="10.17" fill="#000" textLength="33" lengthAdjust="spacingAndGlyphs" >147.205</text>
<text x="1598" y="185" font-size="10.17" fill="#000" textLength="33" lengthAdjust="spacingAndGlyphs" >146.380</text>
<text x="1598" y="218" font-size="10.17" fill="#000" textLength="33" lengthAdjust="spacingAndGlyphs" >145.555</text>
<text x="1598" y="251" font-size="10.17" fill="#000" textLength="33" lengthAdjust="spacingAndGlyphs" >144.705</text>
<text x="1598" y="350" font-size="10.17" fill="#000" textLength="33" lengthAdjust="spacingAndGlyphs" >142.205</text>
<text x="1598" y="383" font-size="10.17" fill="#000" textLength="33" lengthAdjust="spacingAndGlyphs" >141.355</text>
<text x="1598" y="416" font-size="10.17" fill="#000" textLength="33" lengthAdjust="spacingAndGlyphs" >140.530</text>
<text x="1598" y="449" font-size="10.17" fill="#000" textLength="33" lengthAdjust="spacingAndGlyphs" >139.705</text>
<g shape-rendering="crispEdges">
<rect x="1594" y="277" width="41" height="11" fill="#ff0000" />
<rect x="1594" y="306" width="41" height="11" fill="#ff0000" />
<rect x="1594" y="338" width="41" height="11" fill="#32cd32" />
<rect x="1594" y="355" width="41" height="11" fill="#000000" />
<rect x="1594" y="381" width="41" height="11" fill="#0000ff" />
<rect x="1594" y="402" width="41" height="11" fill="#0000ff" />
</g>
<text x="1598.6" y="286" font-size="10.17" fill="#fff" textLength="32.5" lengthAdjust="spacingAndGlyphs" >143.802</text>
<text x="1598.6" y="315" font-size="10.17" fill="#fff" textLength="32.5" lengthAdjust="spacingAndGlyphs" >143.071</text>
<text x="1598.6" y="347" font-size="10.17" fill="#fff" textLength="32.5" lengthAdjust="spacingAndGlyphs" >142.254</text>
<text x="1598.6" y="364" font-size="10.17" fill="#fff" textLength="32.5" lengthAdjust="spacingAndGlyphs" >141.809</text>
<text x="1598.6" y="390" font-size="10.17" fill="#fff" textLength="32.5" lengthAdjust="spacingAndGlyphs" >141.154</text>
<text x="1598.6" y="411" font-size="10.17" fill="#fff" textLength="32.5" lengthAdjust="spacingAndGlyphs" >140.621</text>
<text x="1596.5" y="461" font-size="10.17" fill="#000" textLength="27.5" lengthAdjust="spacingAndGlyphs" >1.3776</text>
<text x="1596.5" y="524" font-size="10.17" fill="#000" textLength="18" lengthAdjust="spacingAndGlyphs" >0.00</text>
<text x="1596.5" y="598" font-size="10.17" fill="#000" textLength="31" lengthAdjust="spacingAndGlyphs" >-1.6196</text>
<text x="1596.2" y="614" font-size="10.17" fill="#000" textLength="14.8" lengthAdjust="spacingAndGlyphs" >100</text>
<text x="1595.6" y="638" font-size="10.17" fill="#000" textLength="10" lengthAdjust="spacingAndGlyphs" >80</text>
<text x="1596.2" y="682" font-size="10.17" fill="#000" textLength="10.4" lengthAdjust="spacingAndGlyphs" >50</text>
<text x="1596.2" y="734" font-size="10.17" fill="#000" textLength="10.4" lengthAdjust="spacingAndGlyphs" >15</text>
<text x="1596.2" y="750" font-size="10.17" fill="#000" textLength="5.2" lengthAdjust="spacingAndGlyphs" >0</text>
<polygon points="5.8,40 13.2,40 9.5,35.5" fill="#000"/>
<text x="18" y="41" font-size="10.17" fill="#000" textLength="63" lengthAdjust="spacingAndGlyphs" >GBPJPY-,Daily</text>
<text x="87" y="41" font-size="10.17" fill="#000" textLength="141" lengthAdjust="spacingAndGlyphs" >142.362 142.520 141.566 141.809</text>
<text x="7" y="463" font-size="10.17" fill="#000" textLength="134.5" lengthAdjust="spacingAndGlyphs" >MACD(12,26,9) -0.8469 -0.8239</text>
<text x="7" y="616" font-size="10.17" fill="#000" textLength="68" lengthAdjust="spacingAndGlyphs" >RSI(14) 37.8627</text>
<g shape-rendering="crispEdges">
<rect x="3" y="754" width="1" height="3" fill="#000" />
<rect x="67" y="754" width="1" height="3" fill="#000" />
<rect x="131" y="754" width="1" height="3" fill="#000" />
<rect x="195" y="754" width="1" height="3" fill="#000" />
<rect x="259" y="754" width="1" height="3" fill="#000" />
<rect x="323" y="754" width="1" height="3" fill="#000" />
<rect x="387" y="754" width="1" height="3" fill="#000" />
<rect x="451" y="754" width="1" height="3" fill="#000" />
<rect x="515" y="754" width="1" height="3" fill="#000" />
<rect x="579" y="754" width="1" height="3" fill="#000" />
<rect x="643" y="754" width="1" height="3" fill="#000" />
<rect x="707" y="754" width="1" height="3" fill="#000" />
<rect x="771" y="754" width="1" height="3" fill="#000" />
<rect x="835" y="754" width="1" height="3" fill="#000" />
<rect x="899" y="754" width="1" height="3" fill="#000" />
<rect x="963" y="754" width="1" height="3" fill="#000" />
<rect x="1027" y="754" width="1" height="3" fill="#000" />
<rect x="1091" y="754" width="1" height="3" fill="#000" />
<rect x="1155" y="754" width="1" height="3" fill="#000" />
<rect x="1219" y="754" width="1" height="3" fill="#000" />
</g>
<text transform="translate(2.6,766) scale(0.905,1)" font-size="10.17" fill="#000">19 Jun 2018</text>
<text transform="translate(66.6,766) scale(0.905,1)" font-size="10.17" fill="#000">28 Jun 2018</text>
<text transform="translate(130.6,766) scale(0.905,1)" font-size="10.17" fill="#000">8 Jul 2018</text>
<text transform="translate(194.6,766) scale(0.905,1)" font-size="10.17" fill="#000">17 Jul 2018</text>
<text transform="translate(258.6,766) scale(0.905,1)" font-size="10.17" fill="#000">26 Jul 2018</text>
<text transform="translate(322.6,766) scale(0.905,1)" font-size="10.17" fill="#000">5 Aug 2018</text>
<text transform="translate(386.6,766) scale(0.905,1)" font-size="10.17" fill="#000">14 Aug 2018</text>
<text transform="translate(450.6,766) scale(0.905,1)" font-size="10.17" fill="#000">23 Aug 2018</text>
<text transform="translate(514.6,766) scale(0.905,1)" font-size="10.17" fill="#000">2 Sep 2018</text>
<text transform="translate(578.6,766) scale(0.905,1)" font-size="10.17" fill="#000">11 Sep 2018</text>
<text transform="translate(642.6,766) scale(0.905,1)" font-size="10.17" fill="#000">20 Sep 2018</text>
<text transform="translate(706.6,766) scale(0.905,1)" font-size="10.17" fill="#000">30 Sep 2018</text>
<text transform="translate(770.6,766) scale(0.905,1)" font-size="10.17" fill="#000">9 Oct 2018</text>
<text transform="translate(834.6,766) scale(0.905,1)" font-size="10.17" fill="#000">18 Oct 2018</text>
<text transform="translate(898.6,766) scale(0.905,1)" font-size="10.17" fill="#000">28 Oct 2018</text>
<text transform="translate(962.6,766) scale(0.905,1)" font-size="10.17" fill="#000">6 Nov 2018</text>
<text transform="translate(1026.6,766) scale(0.905,1)" font-size="10.17" fill="#000">15 Nov 2018</text>
<text transform="translate(1090.6,766) scale(0.905,1)" font-size="10.17" fill="#000">25 Nov 2018</text>
<text transform="translate(1154.6,766) scale(0.905,1)" font-size="10.17" fill="#000">4 Dec 2018</text>
<text transform="translate(1218.6,766) scale(0.905,1)" font-size="10.17" fill="#000">13 Dec 2018</text>
<defs>
<linearGradient id="gb" gradientUnits="userSpaceOnUse" x1="0" y1="49" x2="0" y2="113">
<stop offset="0" stop-color="#5858ff"/><stop offset="0.36" stop-color="#3434ea"/><stop offset="0.42" stop-color="#2c2ce0"/><stop offset="0.8" stop-color="#0808b8"/><stop offset="1" stop-color="#0000a6"/>
</linearGradient>
<linearGradient id="gs" x1="0" y1="0" x2="0" y2="1"><stop offset="0" stop-color="#f4f4f4"/><stop offset="1" stop-color="#dddddd"/></linearGradient>
</defs>
<g shape-rendering="crispEdges">
<rect x="5" y="47" width="222" height="68" fill="#ffffff" />
<rect x="6" y="49" width="52" height="24" fill="url(#gb)" />
<rect x="6" y="73" width="109" height="40" fill="url(#gb)" />
<rect x="173" y="49" width="52" height="24" fill="url(#gb)" />
<rect x="117" y="73" width="108" height="40" fill="url(#gb)" />
<rect x="6" y="49" width="52" height="1" fill="#3030d0" />
<rect x="173" y="49" width="52" height="1" fill="#3030d0" />
<rect x="10" y="73" width="44" height="1" fill="#8c8cff" />
<rect x="177" y="73" width="44" height="1" fill="#8c8cff" />
<rect x="60" y="49" width="111" height="22" fill="#ababab" />
<rect x="61" y="50" width="109" height="20" fill="#ffffff" />
<rect x="61" y="50" width="20" height="20" fill="url(#gs)" />
<rect x="81" y="50" width="1" height="20" fill="#ababab" />
<rect x="150" y="50" width="20" height="20" fill="url(#gs)" />
<rect x="149" y="50" width="1" height="20" fill="#ababab" />
</g>
<polygon points="68,58.3 74,58.3 71,61.6" fill="#000"/>
<polygon points="157,61.4 163,61.4 160,58.1" fill="#000"/>
<text x="145.8" y="64" font-size="13" fill="#000" text-anchor="end" textLength="24.2" lengthAdjust="spacingAndGlyphs" >0.10</text>
<text x="18.2" y="65.2" font-size="13" fill="#fff" textLength="26.4" lengthAdjust="spacingAndGlyphs" >SELL</text>
<text x="186" y="65.2" font-size="13" fill="#fff" textLength="24.3" lengthAdjust="spacingAndGlyphs" >BUY</text>
<text x="29" y="103.8" font-size="12.8" fill="#fff" textLength="20.8" lengthAdjust="spacingAndGlyphs" font-weight="bold" >141</text>
<text x="139" y="103.8" font-size="12.8" fill="#fff" textLength="20.8" lengthAdjust="spacingAndGlyphs" font-weight="bold" >141</text>
<text x="53.2" y="104.6" font-size="36" fill="#fff" textLength="36.4" lengthAdjust="spacingAndGlyphs" >80</text>
<text x="164.2" y="104.6" font-size="36" fill="#fff" textLength="36" lengthAdjust="spacingAndGlyphs" >87</text>
<text x="93" y="87.6" font-size="12.6" fill="#fff" textLength="7.8" lengthAdjust="spacingAndGlyphs" font-weight="bold" >9</text>
<text x="203.6" y="87.6" font-size="12.6" fill="#fff" textLength="7.8" lengthAdjust="spacingAndGlyphs" font-weight="bold" >9</text>
<defs><pattern id="chk" width="2" height="2" patternUnits="userSpaceOnUse"><rect width="2" height="2" fill="#f0f0f0"/><rect width="1" height="1" fill="#ffffff"/><rect x="1" y="1" width="1" height="1" fill="#ffffff"/></pattern></defs>
<g shape-rendering="crispEdges">
<rect x="0" y="0" width="1635" height="24" fill="#f0f0f0" />
<rect x="0" y="24" width="1635" height="1" fill="#d6d6d6" />
<rect x="0" y="25" width="1635" height="1" fill="#9a9a9a" />
<rect x="0" y="26" width="1635" height="1" fill="#6c6c6c" />
<rect x="0" y="27" width="1635" height="2" fill="#ffffff" />
<rect x="2" y="29" width="1591" height="1" fill="#000" />
<rect x="130" y="0" width="1" height="24" fill="#a0a0a0" />
<rect x="131" y="0" width="1" height="24" fill="#ffffff" />
<rect x="134" y="3" width="3" height="1" fill="#a6a6a6" />
<rect x="134" y="5" width="3" height="1" fill="#a6a6a6" />
<rect x="134" y="7" width="3" height="1" fill="#a6a6a6" />
<rect x="134" y="9" width="3" height="1" fill="#a6a6a6" />
<rect x="134" y="11" width="3" height="1" fill="#a6a6a6" />
<rect x="134" y="13" width="3" height="1" fill="#a6a6a6" />
<rect x="134" y="15" width="3" height="1" fill="#a6a6a6" />
<rect x="134" y="17" width="3" height="1" fill="#a6a6a6" />
<rect x="134" y="19" width="3" height="1" fill="#a6a6a6" />
<rect x="134" y="21" width="3" height="1" fill="#a6a6a6" />
<rect x="168" y="1" width="26" height="22" fill="url(#chk)" />
<rect x="168" y="1" width="26" height="1" fill="#a0a0a0" />
<rect x="168" y="1" width="1" height="22" fill="#a0a0a0" />
<rect x="168" y="22" width="26" height="1" fill="#ffffff" />
<rect x="193" y="1" width="1" height="22" fill="#ffffff" />
<rect x="225" y="2" width="1" height="21" fill="#a8a8a8" />
<rect x="315" y="2" width="1" height="21" fill="#a8a8a8" />
<rect x="320" y="1" width="25" height="22" fill="url(#chk)" />
<rect x="320" y="1" width="25" height="1" fill="#a0a0a0" />
<rect x="320" y="1" width="1" height="22" fill="#a0a0a0" />
<rect x="320" y="22" width="25" height="1" fill="#ffffff" />
<rect x="344" y="1" width="1" height="22" fill="#ffffff" />
<rect x="348" y="1" width="25" height="22" fill="url(#chk)" />
<rect x="348" y="1" width="25" height="1" fill="#a0a0a0" />
<rect x="348" y="1" width="1" height="22" fill="#a0a0a0" />
<rect x="348" y="22" width="25" height="1" fill="#ffffff" />
<rect x="372" y="1" width="1" height="22" fill="#ffffff" />
<rect x="377" y="2" width="1" height="21" fill="#a8a8a8" />
<rect x="498" y="0" width="1" height="24" fill="#a0a0a0" />
<rect x="499" y="0" width="1" height="24" fill="#ffffff" />
<rect x="502" y="3" width="3" height="1" fill="#a6a6a6" />
<rect x="502" y="5" width="3" height="1" fill="#a6a6a6" />
<rect x="502" y="7" width="3" height="1" fill="#a6a6a6" />
<rect x="502" y="9" width="3" height="1" fill="#a6a6a6" />
<rect x="502" y="11" width="3" height="1" fill="#a6a6a6" />
<rect x="502" y="13" width="3" height="1" fill="#a6a6a6" />
<rect x="502" y="15" width="3" height="1" fill="#a6a6a6" />
<rect x="502" y="17" width="3" height="1" fill="#a6a6a6" />
<rect x="502" y="19" width="3" height="1" fill="#a6a6a6" />
<rect x="502" y="21" width="3" height="1" fill="#a6a6a6" />
<rect x="508" y="1" width="25" height="22" fill="url(#chk)" />
<rect x="508" y="1" width="25" height="1" fill="#a0a0a0" />
<rect x="508" y="1" width="1" height="22" fill="#a0a0a0" />
<rect x="508" y="22" width="25" height="1" fill="#ffffff" />
<rect x="532" y="1" width="1" height="22" fill="#ffffff" />
<rect x="565" y="2" width="1" height="21" fill="#a8a8a8" />
<rect x="804" y="0" width="1" height="24" fill="#a0a0a0" />
<rect x="805" y="0" width="1" height="24" fill="#ffffff" />
<rect x="808" y="3" width="3" height="1" fill="#a6a6a6" />
<rect x="808" y="5" width="3" height="1" fill="#a6a6a6" />
<rect x="808" y="7" width="3" height="1" fill="#a6a6a6" />
<rect x="808" y="9" width="3" height="1" fill="#a6a6a6" />
<rect x="808" y="11" width="3" height="1" fill="#a6a6a6" />
<rect x="808" y="13" width="3" height="1" fill="#a6a6a6" />
<rect x="808" y="15" width="3" height="1" fill="#a6a6a6" />
<rect x="808" y="17" width="3" height="1" fill="#a6a6a6" />
<rect x="808" y="19" width="3" height="1" fill="#a6a6a6" />
<rect x="808" y="21" width="3" height="1" fill="#a6a6a6" />
<rect x="982" y="1" width="26" height="22" fill="url(#chk)" />
<rect x="982" y="1" width="26" height="1" fill="#a0a0a0" />
<rect x="982" y="1" width="1" height="22" fill="#a0a0a0" />
<rect x="982" y="22" width="26" height="1" fill="#ffffff" />
<rect x="1007" y="1" width="1" height="22" fill="#ffffff" />
<rect x="1065" y="0" width="1" height="24" fill="#a0a0a0" />
<rect x="1066" y="0" width="1" height="24" fill="#ffffff" />
</g>
<text x="-9.6" y="15.9" font-size="12.3" fill="#000" >订单</text>
<defs>
<linearGradient id="bk" x1="0" y1="0" x2="1" y2="1"><stop offset="0" stop-color="#fbe058"/><stop offset="0.45" stop-color="#f0bc18"/><stop offset="1" stop-color="#d08c0c"/></linearGradient>
<radialGradient id="rd" cx="0.45" cy="0.4" r="0.6"><stop offset="0" stop-color="#ff4a20"/><stop offset="0.7" stop-color="#e82400"/><stop offset="1" stop-color="#b81400"/></radialGradient>
<linearGradient id="ht" x1="0" y1="0" x2="0" y2="1"><stop offset="0" stop-color="#7cc8f2"/><stop offset="1" stop-color="#3a9ad4"/></linearGradient>
<linearGradient id="fc" x1="0" y1="0" x2="1" y2="0"><stop offset="0" stop-color="#f2cc30"/><stop offset="0.6" stop-color="#fbf080"/><stop offset="1" stop-color="#f0c828"/></linearGradient>
</defs>
<g>
<path d="M27.4,14.9 Q30.8,11.6 32.3,6.8 L33.7,6.7 L42.4,14.9 L34.8,20.5 Z" fill="url(#bk)" stroke="#a86c0a" stroke-width="1.1" stroke-linejoin="round"/>
<path d="M28.2,15 L35,19.6" stroke="#fbe89a" stroke-width="1.2" fill="none"/>
<path d="M35.4,20.2 L42.2,15.2" stroke="#e8dca8" stroke-width="1.1" fill="none"/>
<path d="M33.4,7.4 L41,14.6" stroke="#c88a14" stroke-width="0.5" fill="none"/>
</g>
<g>
<path d="M54.8,12.6 L69.8,12 L64.2,20.7 L61,20.6 Z" fill="url(#fc)" stroke="#d8a010" stroke-width="0.8" stroke-linejoin="round"/>
<ellipse cx="62.1" cy="10.4" rx="8" ry="2.3" fill="url(#ht)" stroke="#2a8cc0" stroke-width="0.7" transform="rotate(-4 62 10.4)"/>
<ellipse cx="61.6" cy="8.2" rx="3.7" ry="2.8" fill="url(#ht)" stroke="#2a8cc0" stroke-width="0.6"/>
<ellipse cx="61.2" cy="8.6" rx="2.4" ry="1.7" fill="#8cd2f6" opacity="0.8"/>
<circle cx="66.6" cy="16.55" r="4.05" fill="url(#rd)"/>
<rect x="64.95" y="15" width="3.2" height="3.1" fill="#ffffff"/>
</g>
<text x="74.7" y="15.9" font-size="12.2" fill="#000" textLength="48.4" lengthAdjust="spacingAndGlyphs" >自动交易</text>
<g shape-rendering="crispEdges">
<rect x="148" y="8" width="1" height="13" fill="#4d4d4d" />
<rect x="146" y="18" width="13" height="1" fill="#4d4d4d" />
</g>
<polygon points="148.5,6.6 146.6,9.6 150.4,9.6" fill="#4d4d4d"/>
<polygon points="160.2,18.5 157.2,16.6 157.2,20.4" fill="#4d4d4d"/>
<g shape-rendering="crispEdges">
<rect x="154" y="9" width="1" height="8" fill="#18a018" />
<rect x="155" y="9" width="1" height="8" fill="#5cc05c" />
<rect x="152" y="15" width="2" height="1" fill="#18a018" />
<rect x="155" y="9" width="3" height="1" fill="#18a018" />
</g>
<g shape-rendering="crispEdges">
<rect x="176" y="8" width="1" height="13" fill="#4d4d4d" />
<rect x="174" y="18" width="13" height="1" fill="#4d4d4d" />
</g>
<polygon points="176.5,6.6 174.6,9.6 178.4,9.6" fill="#4d4d4d"/>
<polygon points="188.2,18.5 185.2,16.6 185.2,20.4" fill="#4d4d4d"/>
<g shape-rendering="crispEdges">
<rect x="182" y="5" width="1" height="12" fill="#0a8a0a" />
<rect x="180" y="7" width="5" height="8" fill="#0a8a0a" />
<rect x="181" y="8" width="3" height="6" fill="#22dd22" />
</g>
<g shape-rendering="crispEdges">
<rect x="204" y="8" width="1" height="13" fill="#4d4d4d" />
<rect x="202" y="18" width="13" height="1" fill="#4d4d4d" />
</g>
<polygon points="204.5,6.6 202.6,9.6 206.4,9.6" fill="#4d4d4d"/>
<polygon points="216.2,18.5 213.2,16.6 213.2,20.4" fill="#4d4d4d"/>
<path d="M203.2,15.6 Q207,10 209.3,10.2 Q211.5,10.6 214.8,14.2" fill="none" stroke="#2f8f2f" stroke-width="1"/>
<g><line x1="243.8" y1="14.6" x2="248.6" y2="19.4" stroke="#b08818" stroke-width="3.2" stroke-linecap="round"/><line x1="244.2" y1="15" x2="248.4" y2="19.2" stroke="#ecd050" stroke-width="1.6" stroke-linecap="round"/><circle cx="240" cy="10.7" r="5.3" fill="#ddeefc" stroke="#4a8cd8" stroke-width="1.2"/><rect x="237.1" y="9.9" width="5.8" height="1.6" fill="#5a92d0"/><rect x="239.2" y="7.8" width="1.6" height="5.8" fill="#5a92d0"/></g>
<g><line x1="271.8" y1="14.6" x2="276.6" y2="19.4" stroke="#b08818" stroke-width="3.2" stroke-linecap="round"/><line x1="272.2" y1="15" x2="276.4" y2="19.2" stroke="#ecd050" stroke-width="1.6" stroke-linecap="round"/><circle cx="268" cy="10.7" r="5.3" fill="#ddeefc" stroke="#4a8cd8" stroke-width="1.2"/><rect x="265.1" y="9.9" width="5.8" height="1.6" fill="#5a92d0"/></g>
<g shape-rendering="crispEdges">
<rect x="290" y="5" width="8" height="8" fill="#3aa01c" />
<rect x="291" y="8" width="6" height="4" fill="#ffffff" />
<rect x="292" y="9" width="4" height="1" fill="#68c040" />
<rect x="291" y="6" width="1" height="1" fill="#ffffff" />
<rect x="298" y="5" width="8" height="8" fill="#1f50c8" />
<rect x="299" y="8" width="6" height="4" fill="#ffffff" />
<rect x="300" y="9" width="4" height="1" fill="#4a7ae8" />
<rect x="299" y="6" width="1" height="1" fill="#ffffff" />
<rect x="290" y="13" width="8" height="8" fill="#1f50c8" />
<rect x="291" y="16" width="6" height="4" fill="#ffffff" />
<rect x="292" y="17" width="4" height="1" fill="#4a7ae8" />
<rect x="291" y="14" width="1" height="1" fill="#ffffff" />
<rect x="298" y="13" width="8" height="8" fill="#3aa01c" />
<rect x="299" y="16" width="6" height="4" fill="#ffffff" />
<rect x="300" y="17" width="4" height="1" fill="#68c040" />
<rect x="299" y="14" width="1" height="1" fill="#ffffff" />
</g>
<g shape-rendering="crispEdges">
<rect x="328" y="8" width="1" height="13" fill="#4d4d4d" />
<rect x="326" y="18" width="13" height="1" fill="#4d4d4d" />
</g>
<polygon points="328.5,6.6 326.6,9.6 330.4,9.6" fill="#4d4d4d"/>
<polygon points="340.2,18.5 337.2,16.6 337.2,20.4" fill="#4d4d4d"/>
<polygon points="333.2,9.6 337.2,12.7 333.2,15.8" fill="#7fe07f" stroke="#109a10" stroke-width="1"/>
<g shape-rendering="crispEdges">
<rect x="356" y="8" width="1" height="13" fill="#4d4d4d" />
<rect x="354" y="18" width="13" height="1" fill="#4d4d4d" />
</g>
<polygon points="356.5,6.6 354.6,9.6 358.4,9.6" fill="#4d4d4d"/>
<polygon points="368.2,18.5 365.2,16.6 365.2,20.4" fill="#4d4d4d"/>
<g shape-rendering="crispEdges">
<rect x="362" y="7" width="1" height="10" fill="#2a70b8" />
</g>
<path d="M368,12.5 H364.2 M366,10.6 L363.8,12.5 L366,14.4" fill="none" stroke="#d83c10" stroke-width="1.2"/>
<g>
<path d="M387.8,5.5 H395 L398,8.5 V18 H387.8 Z" fill="#ffffff" stroke="#707070" stroke-width="1"/>
<path d="M395,5.5 V8.5 H398" fill="none" stroke="#8c8c8c" stroke-width="0.8"/>
<path d="M390.5,9 V14" stroke="#707070" stroke-width="1"/>
<path d="M395,11.8 h3.8 v3.4 h3.6 v3.8 h-3.6 v3.4 h-3.8 v-3.4 h-3.4 v-3.8 h3.4 z" fill="#22dd22" stroke="#0a8a0a" stroke-width="0.9"/>
</g>
<polygon points="408.8,12 414.40000000000003,12 411.6,15" fill="#000"/>
<defs><linearGradient id="ck" x1="0" y1="0" x2="0" y2="1"><stop offset="0" stop-color="#3a8cec"/><stop offset="1" stop-color="#0c48a8"/></linearGradient></defs>
<g>
<circle cx="432.9" cy="12.8" r="7.7" fill="url(#ck)"/>
<circle cx="432.9" cy="12.8" r="5.1" fill="#f2f6fb"/>
<path d="M432.8,9.2 V13.1 H435.6" fill="none" stroke="#303030" stroke-width="1.1"/>
<circle cx="432.9" cy="16.6" r="0.5" fill="#6a8ac0"/><circle cx="429.2" cy="12.9" r="0.5" fill="#6a8ac0"/>
</g>
<polygon points="447.8,12 453.40000000000003,12 450.6,15" fill="#000"/>
<g shape-rendering="crispEdges">
<rect x="464" y="6" width="16" height="14" fill="#2d6fcc" />
<rect x="465" y="6" width="14" height="2" fill="#6fa8ee" />
<rect x="465" y="8" width="14" height="5" fill="#ffffff" />
<rect x="465" y="14" width="14" height="5" fill="#ffffff" />
</g>
<path d="M466.5,12 L469,11 L471,11 L472.5,10 L474.5,11 L476.5,10.2 L478,10" fill="none" stroke="#a01808" stroke-width="1.2"/>
<path d="M466.5,17.6 L469,16.6 L471,17.4 L473,16.4 L475,15.4 L477,17 L478,17.4" fill="none" stroke="#149a14" stroke-width="1.2"/>
<polygon points="486.8,12 492.40000000000003,12 489.6,15" fill="#000"/>
<polygon points="516,5.8 516,17.6 518.8,15.2 521.2,20.2 522.8,19.4 520.6,14.6 524.2,14.2" fill="#454545"/>
<g shape-rendering="crispEdges">
<rect x="548" y="6" width="1" height="6" fill="#4d4d4d" />
<rect x="548" y="15" width="1" height="6" fill="#4d4d4d" />
<rect x="541" y="13" width="6" height="1" fill="#4d4d4d" />
<rect x="550" y="13" width="6" height="1" fill="#4d4d4d" />
<rect x="582" y="7" width="1" height="13" fill="#4d4d4d" />
<rect x="605" y="13" width="12" height="1" fill="#4d4d4d" />
</g>
<line x1="632.8" y1="20" x2="645.3" y2="7.7" stroke="#4d4d4d" stroke-width="1.1"/>
<g stroke="#383838" stroke-width="1.1" fill="none">
<line x1="658.6" y1="14.6" x2="667" y2="7"/><line x1="661" y1="19" x2="672.6" y2="8.6"/><line x1="664" y1="20" x2="672.4" y2="12.4"/>
<path d="M661.5,12 l0.8,6 M664.4,9.8 l0.8,6 M667.4,7.4 l0.8,6 M670.2,5.4 l0.8,6" stroke-width="0.9"/>
</g>
<text x="669.8" y="21.8" font-size="6.6" fill="#303030" font-weight="bold" >E</text>
<line x1="688" y1="6.5" x2="701" y2="6.5" stroke="#4d4d4d" stroke-width="1" stroke-dasharray="1,1"/>
<line x1="688" y1="9.5" x2="701" y2="9.5" stroke="#4d4d4d" stroke-width="1" stroke-dasharray="1,1"/>
<line x1="688" y1="13.5" x2="701" y2="13.5" stroke="#4d4d4d" stroke-width="1" stroke-dasharray="1,1"/>
<line x1="688" y1="17.5" x2="697" y2="17.5" stroke="#4d4d4d" stroke-width="1" stroke-dasharray="1,1"/>
<text x="697.8" y="21.8" font-size="6.6" fill="#303030" font-weight="bold" >F</text>
<text x="718.5" y="18.1" font-size="12.6" fill="#5a5a5a" textLength="8.6" lengthAdjust="spacingAndGlyphs" font-weight="bold" >A</text>
<g shape-rendering="crispEdges">
<rect x="746" y="7" width="1" height="1" fill="#4d4d4d" />
<rect x="746" y="19" width="1" height="1" fill="#4d4d4d" />
<rect x="748" y="7" width="1" height="1" fill="#4d4d4d" />
<rect x="748" y="19" width="1" height="1" fill="#4d4d4d" />
<rect x="750" y="7" width="1" height="1" fill="#4d4d4d" />
<rect x="750" y="19" width="1" height="1" fill="#4d4d4d" />
<rect x="752" y="7" width="1" height="1" fill="#4d4d4d" />
<rect x="752" y="19" width="1" height="1" fill="#4d4d4d" />
<rect x="754" y="7" width="1" height="1" fill="#4d4d4d" />
<rect x="754" y="19" width="1" height="1" fill="#4d4d4d" />
<rect x="756" y="7" width="1" height="1" fill="#4d4d4d" />
<rect x="756" y="19" width="1" height="1" fill="#4d4d4d" />
<rect x="745" y="7" width="1" height="1" fill="#4d4d4d" />
<rect x="757" y="7" width="1" height="1" fill="#4d4d4d" />
<rect x="745" y="9" width="1" height="1" fill="#4d4d4d" />
<rect x="757" y="9" width="1" height="1" fill="#4d4d4d" />
<rect x="745" y="11" width="1" height="1" fill="#4d4d4d" />
<rect x="757" y="11" width="1" height="1" fill="#4d4d4d" />
<rect x="745" y="13" width="1" height="1" fill="#4d4d4d" />
<rect x="757" y="13" width="1" height="1" fill="#4d4d4d" />
<rect x="745" y="15" width="1" height="1" fill="#4d4d4d" />
<rect x="757" y="15" width="1" height="1" fill="#4d4d4d" />
<rect x="745" y="17" width="1" height="1" fill="#4d4d4d" />
<rect x="757" y="17" width="1" height="1" fill="#4d4d4d" />
<rect x="745" y="19" width="1" height="1" fill="#4d4d4d" />
<rect x="757" y="19" width="1" height="1" fill="#4d4d4d" />
<rect x="744" y="6" width="2" height="1" fill="#4d4d4d" />
</g>
<text x="746.4" y="18" font-size="11.2" fill="#5a5a5a" textLength="9" lengthAdjust="spacingAndGlyphs" font-weight="bold" >T</text>
<g fill="#4d4d4d">
<polygon points="775.6,6.8 779.4,10.2 775.6,11.8 771.8,10.2"/>
<polygon points="782.8,20 786.4,16.6 782.8,15.2 779.2,16.6"/>
<path d="M774.4,14 L776.8,16.4 L782,11" fill="none" stroke="#4d4d4d" stroke-width="1.3"/>
</g>
<polygon points="792.8,12 798.4,12 795.5999999999999,15" fill="#000"/>
<text x="819.2" y="17" font-size="10.17" fill="#3c3c3c" textLength="13.2" lengthAdjust="spacingAndGlyphs" >M1</text>
<text x="847.4" y="17" font-size="10.17" fill="#3c3c3c" textLength="13.2" lengthAdjust="spacingAndGlyphs" >M5</text>
<text x="873.2" y="17" font-size="10.17" fill="#3c3c3c" textLength="18.4" lengthAdjust="spacingAndGlyphs" >M15</text>
<text x="901.2" y="17" font-size="10.17" fill="#3c3c3c" textLength="18.4" lengthAdjust="spacingAndGlyphs" >M30</text>
<text x="932" y="17" font-size="10.17" fill="#3c3c3c" textLength="12.4" lengthAdjust="spacingAndGlyphs" >H1</text>
<text x="959.4" y="17" font-size="10.17" fill="#3c3c3c" textLength="13" lengthAdjust="spacingAndGlyphs" >H4</text>
<text x="988.2" y="17" font-size="10.17" fill="#3c3c3c" textLength="12.4" lengthAdjust="spacingAndGlyphs" >D1</text>
<text x="1015.6" y="17" font-size="10.17" fill="#3c3c3c" textLength="14.6" lengthAdjust="spacingAndGlyphs" >W1</text>
<text x="1042.2" y="17" font-size="10.17" fill="#3c3c3c" textLength="15.6" lengthAdjust="spacingAndGlyphs" >MN</text>
<g>
<line x1="1589" y1="13.2" x2="1584.2" y2="17.8" stroke="#2a62d8" stroke-width="2.6" stroke-linecap="round"/>
<circle cx="1591.5" cy="10.5" r="4" fill="#f4f4ff" stroke="#2a62d8" stroke-width="1.3"/>
</g>
<g>
<path d="M1626,14 L1628,16.8 L1628.6,14 Z" fill="#808080"/>
<ellipse cx="1624" cy="10.2" rx="6.4" ry="4.8" fill="#f6f6f8" stroke="#a4a4a4" stroke-width="1"/>
<path d="M1612.4,17.4 L1612.6,20 L1615,17.6 Z" fill="#808080"/>
<ellipse cx="1615.4" cy="14.4" rx="5" ry="3.8" fill="#f4f4f8" stroke="#a4a4a4" stroke-width="1"/>
</g>
</svg></div></body></html>
